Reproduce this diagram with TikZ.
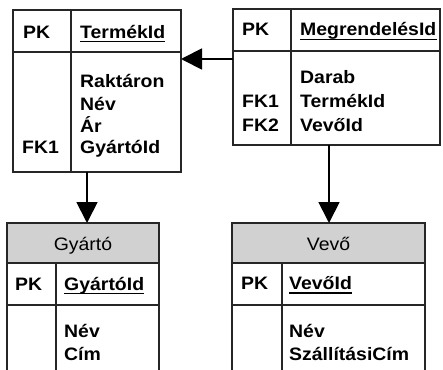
\documentclass[tikz,border=0pt]{standalone}
\usepackage{fontspec}
\newfontfamily\tf{Liberation Sans}[FakeStretch=1.08]
\usetikzlibrary{arrows.meta}
\begin{document}
\begin{tikzpicture}[x=1pt,y=-1pt,
  box/.style={draw=black!85,line width=1.5pt,inner sep=0pt,outer sep=0pt,anchor=north west},
  rule/.style={draw=black!85,line width=1.5pt},
  hdr/.style={fill=black!18},
  txt/.style={anchor=base west,inner sep=0pt,font=\tf\bfseries\fontsize{18}{22}\selectfont},
  ttl/.style={anchor=base,inner sep=0pt,font=\tf\fontsize{18}{22}\selectfont},
  ul/.style={line width=1.7pt},
  arr/.style={line width=1.8pt,-{Triangle[length=21pt,width=21pt]}}]
\clip (0,0) rectangle (443,369);
\fill[white] (0,0) rectangle (443,369);

% ---- Termek table ----
\node[box,minimum width=168pt,minimum height=162pt] (termek) at (13,10) {};
\draw[rule] (13,52) -- (181,52);
\draw[rule] (71,10) -- (71,172);
\node[txt] (tpk) at (23,38) {PK};
\node[txt] (tid) at (80,38) {TermékId};
\draw[ul] ([yshift=-3.5pt]tid.base west) -- ([yshift=-3.5pt]tid.base east);
\node[txt] (t1) at (80,87) {Raktáron};
\node[txt] (t2) at (80,110) {Név};
\node[txt] (t3) at (80,132) {Ár};
\node[txt] (t4) at (80,153) {GyártóId};
\node[txt] (tfk) at (22,153) {FK1};

% ---- Megrendeles table ----
\node[box,minimum width=207pt,minimum height=136pt] (meg) at (233,9) {};
\draw[rule] (233,51) -- (440,51);
\draw[rule] (291,9) -- (291,145);
\node[txt] (mpk) at (242,36) {PK};
\node[txt] (mid) at (300,36) {MegrendelésId};
\draw[ul] ([yshift=-3.5pt]mid.base west) -- ([yshift=-3.5pt]mid.base east);
\node[txt] (m1) at (300,83) {Darab};
\node[txt] (m2) at (300,107) {TermékId};
\node[txt] (m3) at (300,131) {VevőId};
\node[txt] (mfk1) at (242,107) {FK1};
\node[txt] (mfk2) at (242,131) {FK2};

% ---- Gyarto table ----
\fill[hdr] (7,223) rectangle (159,263);
\node[box,minimum width=152pt,minimum height=200pt] (gyarto) at (7,223) {};
\draw[rule] (7,263) -- (159,263);
\draw[rule] (7,305) -- (159,305);
\draw[rule] (56,263) -- (56,423);
\node[ttl] (gt) at (83,250) {Gyártó};
\node[txt] (gpk) at (15,290) {PK};
\node[txt] (gid) at (64,290) {GyártóId};
\draw[ul] ([yshift=-3.5pt]gid.base west) -- ([yshift=-3.5pt]gid.base east);
\node[txt] (g1) at (64,337) {Név};
\node[txt] (g2) at (64,360) {Cím};

% ---- Vevo table ----
\fill[hdr] (232,223) rectangle (425,263);
\node[box,minimum width=193pt,minimum height=200pt] (vevo) at (232,223) {};
\draw[rule] (232,263) -- (425,263);
\draw[rule] (232,305) -- (425,305);
\draw[rule] (282,263) -- (282,423);
\node[ttl] (vt) at (328.5,250) {Vevő};
\node[txt] (vpk) at (241,289.5) {PK};
\node[txt] (vid) at (289,289.5) {VevőId};
\draw[ul] ([yshift=-3.5pt]vid.base west) -- ([yshift=-3.5pt]vid.base east);
\node[txt] (v1) at (289,337) {Név};
\node[txt] (v2) at (289,360) {SzállításiCím};

% ---- connectors ----
\coordinate (ya) at (0,59);
\coordinate (xa) at (87,0);
\coordinate (xb) at (329,0);
\draw[arr] (meg.west |- ya) -- (termek.east |- ya);
\draw[arr] (termek.south -| xa) -- (gyarto.north -| xa);
\draw[arr] (meg.south -| xb) -- (vevo.north -| xb);
\end{tikzpicture}
\end{document}
